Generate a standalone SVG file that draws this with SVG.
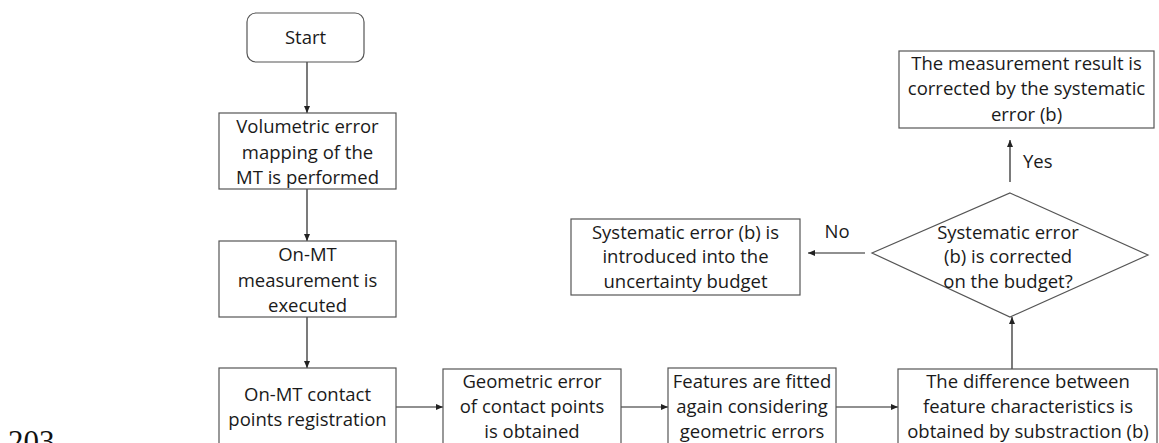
<svg xmlns="http://www.w3.org/2000/svg" width="1159" height="443" viewBox="0 0 1159 443">
<style>
.box{fill:#fff;stroke:#555;stroke-width:1.2}
.t{font-family:"Open Sans","Liberation Sans",sans-serif;font-size:18.5px;fill:#1a1a1a;text-anchor:middle}
.lbl{font-family:"Open Sans","Liberation Sans",sans-serif;font-size:18.5px;fill:#1a1a1a}
.c{fill:none;stroke:#222;stroke-width:1.2}
</style>
<defs>
<marker id="ah" markerUnits="userSpaceOnUse" markerWidth="8" markerHeight="8" viewBox="0 0 8 8" refX="7" refY="4" orient="auto">
<path d="M0,1 L7,4 L0,7 Z" fill="#222"/>
</marker>
</defs>
<rect width="1159" height="443" fill="#fff"/>
<text x="8" y="452" font-family="Liberation Serif,serif" font-size="31" fill="#111">203</text>
<g id="connectors">
<line class="c" x1="307" y1="62" x2="307" y2="113" marker-end="url(#ah)"/>
<line class="c" x1="307" y1="189" x2="307" y2="241" marker-end="url(#ah)"/>
<line class="c" x1="307" y1="317" x2="307" y2="368" marker-end="url(#ah)"/>
<line class="c" x1="396" y1="407" x2="443" y2="407" marker-end="url(#ah)"/>
<line class="c" x1="621" y1="407" x2="668" y2="407" marker-end="url(#ah)"/>
<line class="c" x1="836" y1="407" x2="898" y2="407" marker-end="url(#ah)"/>
<line class="c" x1="1012" y1="369" x2="1012" y2="317" marker-end="url(#ah)"/>
<line class="c" x1="1010" y1="182" x2="1010" y2="140" marker-end="url(#ah)"/>
<line class="c" x1="865" y1="253" x2="808" y2="253" marker-end="url(#ah)"/>
<text class="lbl" x="1023" y="168">Yes</text>
<text class="lbl" x="837" y="238" text-anchor="middle">No</text>
</g>
<g id="start">
<rect class="box" x="247" y="13" width="117" height="49" rx="9"/>
<text class="t" x="305.5" y="44">Start</text>
</g>
<g id="volumetric">
<rect class="box" x="219" y="113" width="177" height="76"/>
<text class="t" x="307.5" y="133">Volumetric error</text>
<text class="t" x="307.5" y="158.5">mapping of the</text>
<text class="t" x="307.5" y="184">MT is performed</text>
</g>
<g id="onmt">
<rect class="box" x="219" y="241" width="177" height="76"/>
<text class="t" x="307.5" y="261">On-MT</text>
<text class="t" x="307.5" y="286.5">measurement is</text>
<text class="t" x="307.5" y="312">executed</text>
</g>
<g id="contact">
<rect class="box" x="219" y="368" width="177" height="90"/>
<text class="t" x="307.5" y="401">On-MT contact</text>
<text class="t" x="307.5" y="426">points registration</text>
</g>
<g id="geometric">
<rect class="box" x="443" y="369" width="178" height="90"/>
<text class="t" x="532" y="388">Geometric error</text>
<text class="t" x="532" y="413">of contact points</text>
<text class="t" x="532" y="438">is obtained</text>
</g>
<g id="features">
<rect class="box" x="668" y="368" width="168" height="90"/>
<text class="t" x="752" y="388">Features are fitted</text>
<text class="t" x="752" y="413">again considering</text>
<text class="t" x="752" y="438">geometric errors</text>
</g>
<g id="difference">
<rect class="box" x="898" y="369" width="259" height="90"/>
<text class="t" x="1028" y="388">The difference between</text>
<text class="t" x="1028" y="413">feature characteristics is</text>
<text class="t" x="1028" y="438">obtained by substraction (b)</text>
</g>
<g id="decision">
<polygon class="box" points="1010,193 1148,255 1010,317 872,253"/>
<text class="t" x="1008" y="239">Systematic error</text>
<text class="t" x="1008" y="263">(b) is corrected</text>
<text class="t" x="1008" y="288">on the budget?</text>
</g>
<g id="result">
<rect class="box" x="899" y="51" width="255" height="77"/>
<text class="t" x="1026.5" y="70">The measurement result is</text>
<text class="t" x="1026.5" y="95">corrected by the systematic</text>
<text class="t" x="1026.5" y="121">error (b)</text>
</g>
<g id="uncertainty">
<rect class="box" x="571" y="219" width="229" height="76"/>
<text class="t" x="685.5" y="239">Systematic error (b) is</text>
<text class="t" x="685.5" y="263">introduced into the</text>
<text class="t" x="685.5" y="288">uncertainty budget</text>
</g>
</svg>
